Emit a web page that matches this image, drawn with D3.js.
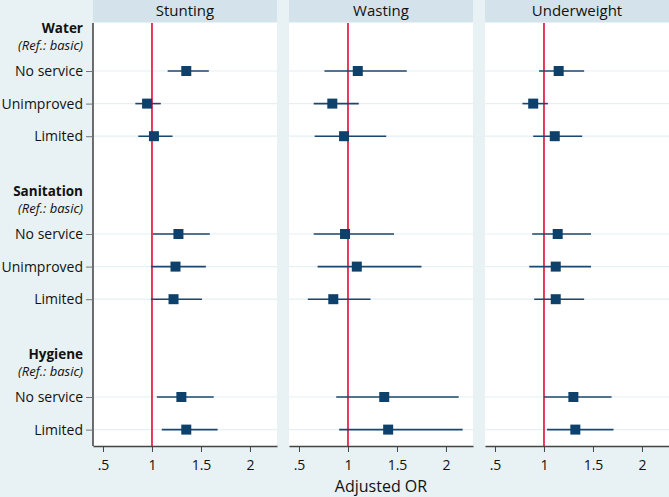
<!DOCTYPE html>
<html>
<head>
<meta charset="utf-8">
<script src="https://cdn.jsdelivr.net/npm/d3@7"></script>
<style>
  html, body { margin: 0; padding: 0; background: #e8f1f3; }
  svg { display: block; font-family: "Open Sans", "Noto Sans", sans-serif; }
</style>
</head>
<body>
<div id="chart"></div>
<script>
// outcomes shown as panels
const panels = ["Stunting", "Wasting", "Underweight"];

// exposure groups and their categories (reference = basic)
const groups = ["Water", "Sanitation", "Hygiene"];
const groupItems = [
    ["No service", "Unimproved", "Limited"],
    ["No service", "Unimproved", "Limited"],
    ["No service", "Limited"]
];

// adjusted OR, lower and upper 95% CI, in row order
// Water: NS, Unimp, Lim | Sanitation: NS, Unimp, Lim | Hygiene: NS, Lim
const stuntingOR = [1.35, 0.95, 1.02, 1.27, 1.24, 1.22, 1.30, 1.35];
const stuntingLo = [1.16, 0.83, 0.86, 1.01, 0.99, 0.99, 1.05, 1.10];
const stuntingHi = [1.58, 1.09, 1.21, 1.59, 1.55, 1.51, 1.63, 1.67];

const wastingOR = [1.10, 0.84, 0.96, 0.97, 1.09, 0.85, 1.37, 1.41];
const wastingLo = [0.76, 0.65, 0.66, 0.65, 0.69, 0.59, 0.88, 0.91];
const wastingHi = [1.60, 1.11, 1.39, 1.47, 1.75, 1.23, 2.13, 2.17];

const underweightOR = [1.15, 0.89, 1.11, 1.14, 1.12, 1.12, 1.30, 1.32];
const underweightLo = [0.95, 0.78, 0.89, 0.88, 0.85, 0.90, 1.00, 1.03];
const underweightHi = [1.41, 1.04, 1.39, 1.48, 1.48, 1.41, 1.69, 1.71];

const xTicks = [0.5, 1, 1.5, 2];
const xTickLabels = [".5", "1", "1.5", "2"];
const refValue = 1;

const width = 669, height = 497;
const margin = {top: 22, right: 0, bottom: 51, left: 93};
const panelGap = 12;
const panelW = (width - margin.left - margin.right - 2 * panelGap) / 3;
const plotTop = margin.top + 1;
const plotBottom = height - margin.bottom;

// build row list: header row, item rows, spacer row between groups
const rows = [];
const dataRows = [];
groups.forEach((g, gi) => {
    rows.push({key: g + "|hdr", type: "hdr", group: g});
    groupItems[gi].forEach(it => {
        const r = {key: g + "|" + it, type: "item", label: it};
        rows.push(r);
        dataRows.push(r);
    });
    if (gi < groups.length - 1) rows.push({key: g + "|gap", type: "gap"});
});

const series = [
    {or: stuntingOR, lo: stuntingLo, hi: stuntingHi},
    {or: wastingOR, lo: wastingLo, hi: wastingHi},
    {or: underweightOR, lo: underweightLo, hi: underweightHi}
];

const svg = d3.select("#chart").append("svg")
    .attr("width", width)
    .attr("height", height);

svg.append("rect").attr("width", width).attr("height", height).attr("fill", "#e8f1f3");

const y = d3.scalePoint()
    .domain(rows.map(r => r.key))
    .range([38.4, 429.6]);

const x = d3.scaleLinear()
    .domain([0.398, 2.276])
    .range([0, panelW]);

const navy = "#1a476f";
const red = "#e4264a";

panels.forEach((name, pi) => {
    const px = margin.left + pi * (panelW + panelGap);
    const g = svg.append("g").attr("transform", "translate(" + px + ",0)");

    // header strip
    g.append("rect")
        .attr("x", 0).attr("y", 0)
        .attr("width", panelW).attr("height", margin.top)
        .attr("fill", "#d4e3eb");
    g.append("text")
        .attr("x", panelW / 2).attr("y", 16)
        .attr("text-anchor", "middle")
        .attr("font-size", 15)
        .attr("fill", "#111")
        .text(name);

    // plot region
    g.append("rect")
        .attr("x", 0).attr("y", plotTop)
        .attr("width", panelW).attr("height", plotBottom - plotTop)
        .attr("fill", "#fff");

    // row gridlines
    g.selectAll("line.grid")
        .data(dataRows)
        .enter().append("line")
        .attr("class", "grid")
        .attr("x1", 0).attr("x2", panelW)
        .attr("y1", d => y(d.key)).attr("y2", d => y(d.key))
        .attr("stroke", "#e6eff3")
        .attr("stroke-width", 1.2);

    // reference line at OR = 1
    g.append("line")
        .attr("x1", x(refValue)).attr("x2", x(refValue))
        .attr("y1", plotTop).attr("y2", plotBottom)
        .attr("stroke", red)
        .attr("stroke-width", 1.8);

    const s = series[pi];

    // confidence intervals
    g.selectAll("line.ci")
        .data(dataRows)
        .enter().append("line")
        .attr("class", "ci")
        .attr("x1", (d, i) => x(s.lo[i]))
        .attr("x2", (d, i) => x(s.hi[i]))
        .attr("y1", d => y(d.key)).attr("y2", d => y(d.key))
        .attr("stroke", navy)
        .attr("stroke-width", 1.6);

    // point estimates
    const ms = 10;
    g.selectAll("rect.pt")
        .data(dataRows)
        .enter().append("rect")
        .attr("class", "pt")
        .attr("x", (d, i) => x(s.or[i]) - ms / 2)
        .attr("y", d => y(d.key) - ms / 2)
        .attr("width", ms).attr("height", ms)
        .attr("fill", "#0d416b");

    // x axis
    const ax = g.append("g")
        .attr("transform", "translate(0," + plotBottom + ")")
        .call(d3.axisBottom(x)
            .tickValues(xTicks)
            .tickFormat((d, i) => xTickLabels[i])
            .tickSize(6)
            .tickSizeOuter(0));
    ax.select(".domain").attr("stroke", "#444").attr("stroke-width", 1.3);
    ax.selectAll(".tick line").attr("stroke", "#444");
    ax.selectAll(".tick text")
        .attr("font-size", 14)
        .attr("font-family", "Open Sans, sans-serif")
        .attr("fill", "#111")
        .attr("dy", "1.05em");

    // y axis on first panel only
    if (pi === 0) {
        const yAxis = g.append("g")
            .call(d3.axisLeft(y)
                .tickValues(dataRows.map(r => r.key))
                .tickFormat(k => rows.find(r => r.key === k).label)
                .tickSize(7)
                .tickSizeOuter(0));
        yAxis.select(".domain")
            .attr("d", "M0," + plotTop + "V" + plotBottom)
            .attr("stroke", "#222").attr("stroke-width", 1.3);
        yAxis.selectAll(".tick line").attr("stroke", "#777");
        yAxis.selectAll(".tick text")
            .attr("font-size", 14)
            .attr("font-family", "Open Sans, sans-serif")
            .attr("fill", "#111")
            .attr("x", -10);

        // group headers: bold name, italic reference note below
        const hdr = g.selectAll("g.hdr")
            .data(rows.filter(r => r.type === "hdr"))
            .enter().append("g")
            .attr("class", "hdr");
        hdr.append("text")
            .attr("x", -10)
            .attr("y", d => y(d.key) - 5)
            .attr("text-anchor", "end")
            .attr("font-size", 13.5)
            .attr("font-weight", "bold")
            .attr("fill", "#111")
            .text(d => d.group);
        hdr.append("text")
            .attr("x", -10)
            .attr("y", d => y(d.key) + 12)
            .attr("text-anchor", "end")
            .attr("font-size", 13)
            .attr("font-style", "italic")
            .attr("fill", "#111")
            .text("(Ref.: basic)");
    }
});

// shared x title
svg.append("text")
    .attr("x", margin.left + panelW * 1.5 + panelGap)
    .attr("y", 492)
    .attr("text-anchor", "middle")
    .attr("font-size", 16)
    .attr("fill", "#111")
    .text("Adjusted OR");
</script>
</body>
</html>
